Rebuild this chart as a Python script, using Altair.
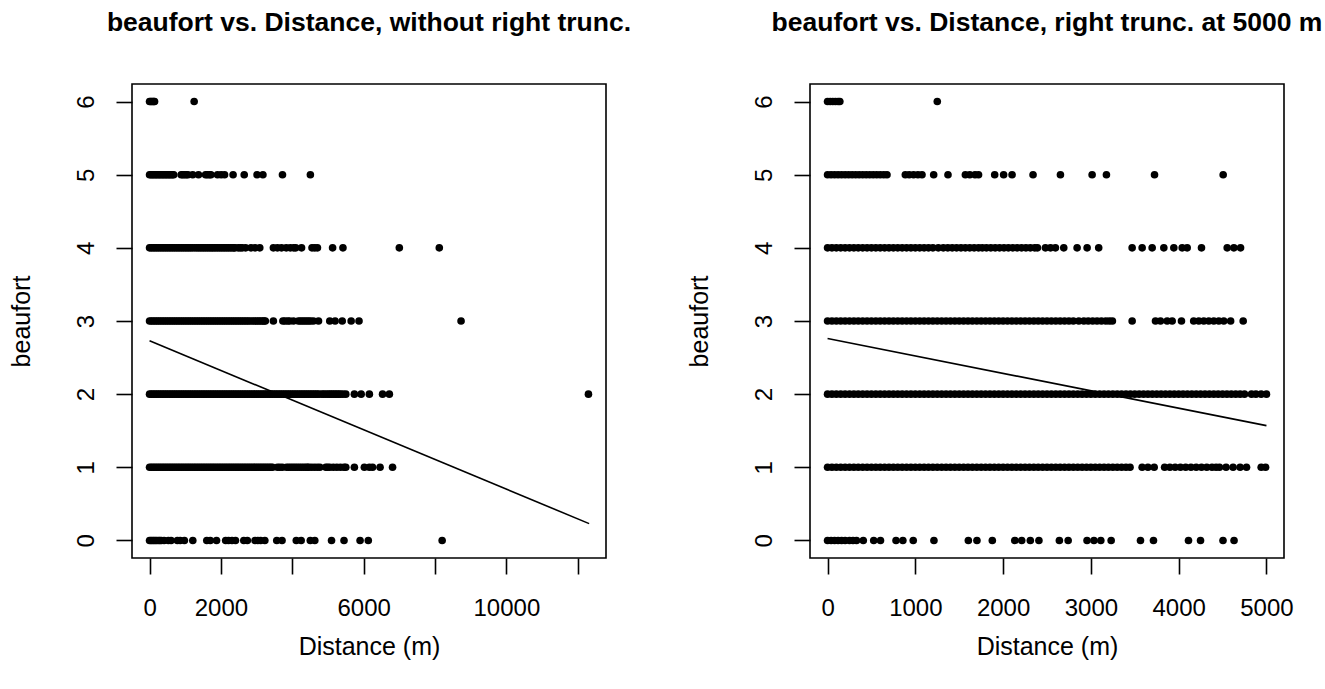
import altair as alt
import pandas as pd

# ---- data (distance in m, per beaufort level) ----
beaufort_0 = [0, 40, 80, 120, 160, 200, 250, 290, 330, 407, 526, 603, 780, 858, 976,
              1212, 1604, 1702, 1877, 2133, 2212, 2310, 2408, 2641, 2741, 2956, 3035,
              3113, 3231, 3565, 3713, 4112, 4249, 4505, 4631, 5100, 5450, 5900, 6130, 8200]

beaufort_1 = [0, 50, 100, 150, 200, 250, 300, 350, 400, 450, 500, 550, 600, 650, 700,
              750, 800, 850, 900, 950, 1000, 1050, 1100, 1150, 1200, 1250, 1300, 1350,
              1400, 1450, 1500, 1550, 1600, 1650, 1700, 1750, 1800, 1850, 1900, 1950,
              2000, 2050, 2100, 2150, 2200, 2250, 2300, 2350, 2400, 2450, 2500, 2550,
              2600, 2650, 2700, 2750, 2800, 2850, 2900, 2950, 3000, 3050, 3100, 3150,
              3200, 3250, 3300, 3350, 3400, 3446, 3584, 3650, 3721, 3840, 3900, 3960,
              4020, 4080, 4140, 4200, 4260, 4320, 4380, 4426, 4465, 4540, 4620, 4700,
              4773, 4940, 4990, 5050, 5150, 5250, 5350, 5450, 5500, 5740, 6020, 6160,
              6250, 6460, 6810]

beaufort_2 = [0, 50, 100, 150, 200, 250, 300, 350, 400, 450, 500, 550, 600, 650, 700,
              750, 800, 850, 900, 950, 1000, 1050, 1100, 1150, 1200, 1250, 1300, 1350,
              1400, 1450, 1500, 1550, 1600, 1650, 1700, 1750, 1800, 1850, 1900, 1950,
              2000, 2050, 2100, 2150, 2200, 2250, 2300, 2350, 2400, 2450, 2500, 2550,
              2600, 2650, 2700, 2750, 2800, 2850, 2900, 2950, 3000, 3050, 3100, 3150,
              3200, 3250, 3300, 3350, 3400, 3450, 3500, 3550, 3600, 3650, 3700, 3750,
              3800, 3850, 3900, 3950, 4000, 4050, 4100, 4150, 4200, 4250, 4300, 4350,
              4400, 4450, 4500, 4550, 4600, 4650, 4700, 4750, 4830, 4880, 4940, 5000,
              5050, 5100, 5150, 5200, 5250, 5300, 5350, 5420, 5500, 5740, 5930, 6160,
              6530, 6720, 12300]

beaufort_3 = [0, 50, 100, 150, 200, 250, 300, 350, 400, 450, 500, 550, 600, 650, 700,
              750, 800, 850, 900, 950, 1000, 1050, 1100, 1150, 1200, 1250, 1300, 1350,
              1400, 1450, 1500, 1550, 1600, 1650, 1700, 1750, 1800, 1850, 1900, 1950,
              2000, 2050, 2100, 2150, 2200, 2250, 2300, 2350, 2400, 2450, 2500, 2550,
              2600, 2650, 2700, 2750, 2800, 2862, 2920, 2970, 3020, 3070, 3120, 3170,
              3210, 3245, 3470, 3736, 3793, 3869, 3926, 4032, 4171, 4229, 4286, 4343,
              4400, 4457, 4514, 4592, 4735, 5050, 5200, 5400, 5650, 5870, 8730]

beaufort_4 = [0, 50, 100, 150, 200, 250, 300, 350, 400, 450, 500, 550, 600, 650, 700,
              750, 800, 850, 900, 950, 1000, 1050, 1100, 1150, 1200, 1262, 1319, 1370,
              1420, 1470, 1520, 1570, 1620, 1670, 1720, 1763, 1810, 1860, 1910, 1960,
              2010, 2060, 2110, 2160, 2210, 2260, 2310, 2360, 2391, 2482, 2540, 2596,
              2691, 2843, 2957, 3089, 3470, 3584, 3698, 3831, 3945, 4040, 4097, 4260,
              4553, 4629, 4705, 5130, 5420, 7000, 8120]

beaufort_5 = [0, 40, 80, 120, 160, 200, 240, 280, 320, 360, 400, 440, 480, 520, 560,
              600, 640, 677, 886, 930, 980, 1030, 1076, 1209, 1372, 1570, 1620, 1680,
              1720, 1904, 2006, 2102, 2341, 2653, 3014, 3177, 3725, 4507]

beaufort_6 = [0, 30, 60, 90, 120, 140, 1250]

levels = [0, 1, 2, 3, 4, 5, 6]
series = [beaufort_0, beaufort_1, beaufort_2, beaufort_3, beaufort_4, beaufort_5, beaufort_6]

# fitted regression lines (end points)
fit_left_x = [0, 12320]
fit_left_y = [2.73, 0.23]
fit_right_x = [0, 5000]
fit_right_y = [2.76, 1.57]

left_ticks = [0, 2000, 4000, 6000, 8000, 10000, 12000]
left_shown = [0, 2000, 6000, 10000]
right_ticks = [0, 1000, 2000, 3000, 4000, 5000]
y_ticks = [0, 1, 2, 3, 4, 5, 6]

titles = ["beaufort vs. Distance, without right trunc.",
          "beaufort vs. Distance, right trunc. at 5000 m"]

rows = []
for lev, lst in zip(levels, series):
    for d in lst:
        rows.append({"distance": d, "beaufort": lev})
df = pd.DataFrame(rows)

FONT = "Liberation Sans"
W = 474
H = 474


def panel(data, x_domain, ticks, shown, fx, fy, title):
    xs = alt.Scale(domain=x_domain, nice=False, zero=False)
    ys = alt.Scale(domain=[-0.24, 6.24], nice=False, zero=False)
    shown_str = ",".join(str(v) for v in shown)
    xaxis = alt.Axis(values=ticks, format="d", title="Distance (m)", domain=False,
                     grid=False, tickSize=16, tickWidth=1.6, tickColor="black",
                     labelFont=FONT, labelFontSize=24, labelColor="black",
                     labelPadding=22, labelOverlap=False,
                     labelExpr="indexof([" + shown_str + "], datum.value) >= 0 ? datum.label : ''",
                     titleFont=FONT, titleFontSize=25, titleFontWeight="normal",
                     titleColor="black", titlePadding=14)
    yaxis = alt.Axis(values=y_ticks, format="d", title="beaufort", domain=False, grid=False,
                     tickSize=16, tickWidth=1.6, tickColor="black",
                     labelFont=FONT, labelFontSize=24, labelColor="black",
                     labelAngle=270, labelAlign="center", labelBaseline="bottom",
                     labelPadding=18,
                     titleFont=FONT, titleFontSize=25, titleFontWeight="normal",
                     titleColor="black", titlePadding=40)
    pts = alt.Chart(data).mark_circle(size=58, color="black", opacity=1).encode(
        x=alt.X("distance:Q", scale=xs, axis=xaxis),
        y=alt.Y("beaufort:Q", scale=ys, axis=yaxis),
    )
    fit_df = pd.DataFrame({"distance": fx, "beaufort": fy})
    line = alt.Chart(fit_df).mark_line(color="black", strokeWidth=1.6).encode(
        x=alt.X("distance:Q", scale=xs),
        y=alt.Y("beaufort:Q", scale=ys),
    )
    return alt.layer(pts, line).properties(
        width=W, height=H,
        title=alt.TitleParams(text=title, font=FONT, fontSize=26.5, fontWeight="bold",
                              color="black", anchor="middle", frame="group",
                              baseline="alphabetic", offset=27),
    )


left = panel(df, [-492, 12792], left_ticks, left_shown, fit_left_x, fit_left_y, titles[0])
right_data = df[df["distance"] <= 5000]
right = panel(right_data, [-200, 5200], right_ticks, right_ticks, fit_right_x, fit_right_y, titles[1])

chart = alt.hconcat(left, right, spacing=54).configure_view(
    stroke="black", strokeWidth=1.6
).properties(padding={"left": 8, "top": 8, "right": 0, "bottom": 0}, background="white")

chart.save("out.html", embed_options={"renderer": "svg", "actions": False})
